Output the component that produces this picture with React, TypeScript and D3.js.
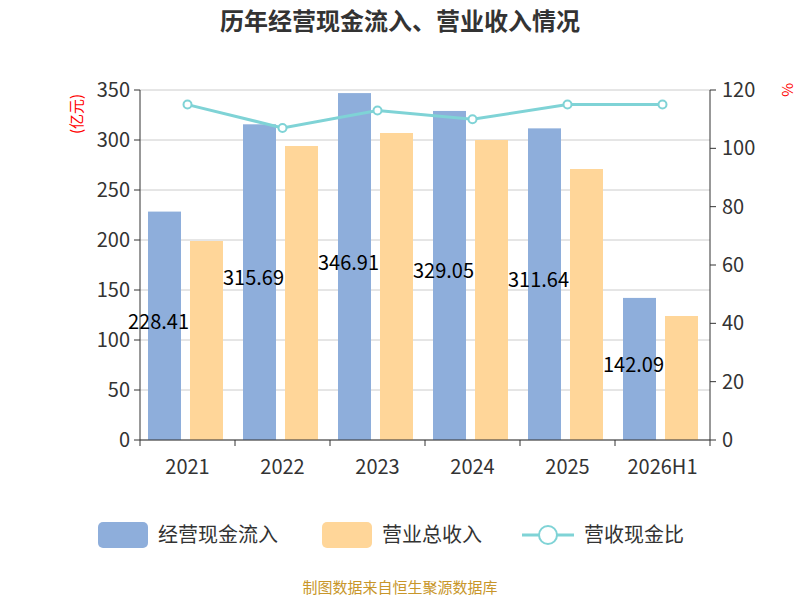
import React from "react";
import * as d3 from "d3";

const categories = ["2021", "2022", "2023", "2024", "2025", "2026H1"];
const cashIn = [228.41, 315.69, 346.91, 329.05, 311.64, 142.09];
const revenue = [199, 294, 307, 300, 271, 124];
const ratio = [115, 107, 113, 110, 115, 115];
const leftTicks = [0, 50, 100, 150, 200, 250, 300, 350];
const rightTicks = [0, 20, 40, 60, 80, 100, 120];

const font = "'Noto Sans CJK SC', 'Noto Sans', sans-serif";

export default function App() {
  const L = 140, R = 710, T = 90, B = 440;
  const x = d3.scaleBand().domain(categories).range([L, R]);
  const y = d3.scaleLinear().domain([0, 350]).range([B, T]);
  const y2 = d3.scaleLinear().domain([0, 120]).range([B, T]);
  const bw = 33;
  const line = d3.line<number>().x((_, i) => x(categories[i])! + x.bandwidth() / 2).y(d => y2(d));
  return (
    <svg width={800} height={600} style={{ position: "absolute", left: 0, top: 0 }} fontFamily={font}>
      <rect width={800} height={600} fill="#fff" />
      <text x={400} y={30} textAnchor="middle" fontSize={24} fontWeight="bold" fill="#333">历年经营现金流入、营业收入情况</text>
      {leftTicks.map(t => (
        <g key={t}>
          <line x1={L} x2={R} y1={y(t)} y2={y(t)} stroke="#ccc" />
          <line x1={L - 6} x2={L} y1={y(t)} y2={y(t)} stroke="#333" />
          <text x={L - 10} y={y(t)} dy="0.35em" textAnchor="end" fontSize={20} fill="#333">{t}</text>
        </g>
      ))}
      {rightTicks.map(t => (
        <g key={t}>
          <line x1={R} x2={R + 6} y1={y2(t)} y2={y2(t)} stroke="#333" />
          <text x={R + 12} y={y2(t)} dy="0.35em" fontSize={20} fill="#333">{t}</text>
        </g>
      ))}
      <text transform={`translate(82,${T + 24}) rotate(-90)`} textAnchor="middle" fontSize={15} fill="red">(亿元)</text>
      <text transform={`translate(782,${T}) rotate(90)`} textAnchor="middle" fontSize={15} fill="red">%</text>
      {categories.map((c, i) => (
        <rect key={c} x={x(c)! + 8} y={y(cashIn[i])} width={bw} height={B - y(cashIn[i])} fill="#8eaedb" />
      ))}
      {categories.map((c, i) => (
        <text key={c} x={x(c)! + 2 + bw / 2} y={y(cashIn[i] / 2) - 4} dy="0.35em" textAnchor="middle" fontSize={20} fill="#000">{cashIn[i].toFixed(2)}</text>
      ))}
      {categories.map((c, i) => (
        <rect key={c} x={x(c)! + 50} y={y(revenue[i])} width={bw} height={B - y(revenue[i])} fill="#ffd699" />
      ))}
      <line x1={L} x2={L} y1={T} y2={B} stroke="#333" />
      <line x1={R} x2={R} y1={T} y2={B} stroke="#333" />
      <line x1={L} x2={R} y1={B} y2={B} stroke="#333" />
      {categories.map((c, i) => (
        <g key={c}>
          <line x1={x(c)!} x2={x(c)!} y1={B} y2={B + 6} stroke="#333" />
          <text x={x(c)! + x.bandwidth() / 2} y={B + 34} textAnchor="middle" fontSize={20} fill="#333">{c}</text>
        </g>
      ))}
      <line x1={R} x2={R} y1={B} y2={B + 6} stroke="#333" />
      <path d={line(ratio)!} fill="none" stroke="#7fd3d6" strokeWidth={3} />
      {ratio.map((r, i) => (
        <circle key={i} cx={x(categories[i])! + x.bandwidth() / 2} cy={y2(r)} r={4} fill="#fff" stroke="#7fd3d6" strokeWidth={2} />
      ))}
      <rect x={98} y={522} width={50} height={26} rx={5} fill="#8eaedb" />
      <text x={158} y={535} dy="0.35em" fontSize={20} fill="#333">经营现金流入</text>
      <rect x={322} y={522} width={50} height={26} rx={5} fill="#ffd699" />
      <text x={382} y={535} dy="0.35em" fontSize={20} fill="#333">营业总收入</text>
      <line x1={522} x2={574} y1={535} y2={535} stroke="#7fd3d6" strokeWidth={3} />
      <circle cx={548} cy={535} r={9} fill="#fff" stroke="#7fd3d6" strokeWidth={2} />
      <text x={584} y={535} dy="0.35em" fontSize={20} fill="#333">营收现金比</text>
      <text x={400} y={593} textAnchor="middle" fontSize={15} fill="#c8962a">制图数据来自恒生聚源数据库</text>
    </svg>
  );
}
